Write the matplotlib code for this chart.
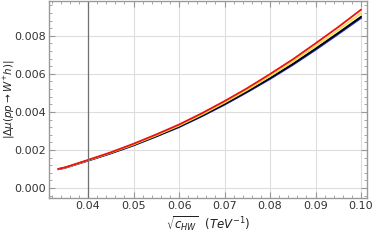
import matplotlib
matplotlib.use("Agg")
import matplotlib.pyplot as plt
from matplotlib.ticker import MultipleLocator

x = [0.0335, 0.035, 0.04, 0.045, 0.05, 0.055, 0.06, 0.065, 0.07, 0.075, 0.08, 0.085, 0.09, 0.095, 0.10]
blue = [0.00099, 0.00107, 0.00144, 0.00182, 0.00224, 0.00271, 0.00320, 0.00377, 0.00438, 0.00504, 0.00573, 0.00647, 0.00726, 0.00809, 0.00893]
black = [0.00100, 0.00108, 0.00145, 0.00184, 0.00226, 0.00273, 0.00323, 0.00380, 0.00442, 0.00508, 0.00578, 0.00652, 0.00732, 0.00815, 0.00900]
yellow = [0.00100, 0.00108, 0.00146, 0.00186, 0.00229, 0.00277, 0.00328, 0.00386, 0.00449, 0.00516, 0.00588, 0.00664, 0.00746, 0.00830, 0.00918]
red = [0.00101, 0.00109, 0.00148, 0.00188, 0.00233, 0.00282, 0.00334, 0.00393, 0.00457, 0.00525, 0.00599, 0.00676, 0.00760, 0.00846, 0.00937]
x_marker = 0.04

fig = plt.figure(figsize=(3.74, 2.40), dpi=100)
ax = fig.add_axes([0.131, 0.175, 0.85, 0.821])

ax.plot(x, blue, color='#1f2fd0', lw=1.3)
ax.plot(x, black, color='black', lw=1.3)
ax.plot(x, yellow, color='#f5e04a', lw=1.3)
ax.plot(x, red, color='#ee1111', lw=1.3)
ax.axvline(x_marker, color='#707070', lw=0.9)

ax.set_xlim(0.0314, 0.1013)
ax.set_ylim(-0.00052, 0.00983)
ax.xaxis.set_major_locator(MultipleLocator(0.01))
ax.xaxis.set_minor_locator(MultipleLocator(0.002))
ax.yaxis.set_major_locator(MultipleLocator(0.002))
ax.yaxis.set_minor_locator(MultipleLocator(0.0004))
ax.set_xticks([0.04, 0.05, 0.06, 0.07, 0.08, 0.09, 0.10])
ax.set_xticklabels(['0.04', '0.05', '0.06', '0.07', '0.08', '0.09', '0.10'])
ax.set_yticks([0.0, 0.002, 0.004, 0.006, 0.008])
ax.set_yticklabels(['0.000', '0.002', '0.004', '0.006', '0.008'])

ax.grid(True, which='major', color='#dddddd', lw=0.8)
ax.set_axisbelow(True)
for s in ax.spines.values():
    s.set_color('#999999')
    s.set_linewidth(1.0)
ax.tick_params(which='both', direction='in', top=True, right=True, color='#999999',
               labelsize=8, labelcolor='#333333', pad=2)
ax.tick_params(which='major', length=4, width=0.8)
ax.tick_params(which='minor', length=2, width=0.6)

ax.set_xlabel(r'$\sqrt{c_{HW}}$  $(TeV^{-1})$', fontsize=8.5, color='#222222', labelpad=2)
ax.set_ylabel(r'$|\Delta\mu(pp\rightarrow W^{+}h)|$', fontsize=7.5, color='#222222')
ax.yaxis.set_label_coords(-0.102, 0.5)

fig.savefig('out.png', dpi=100)
